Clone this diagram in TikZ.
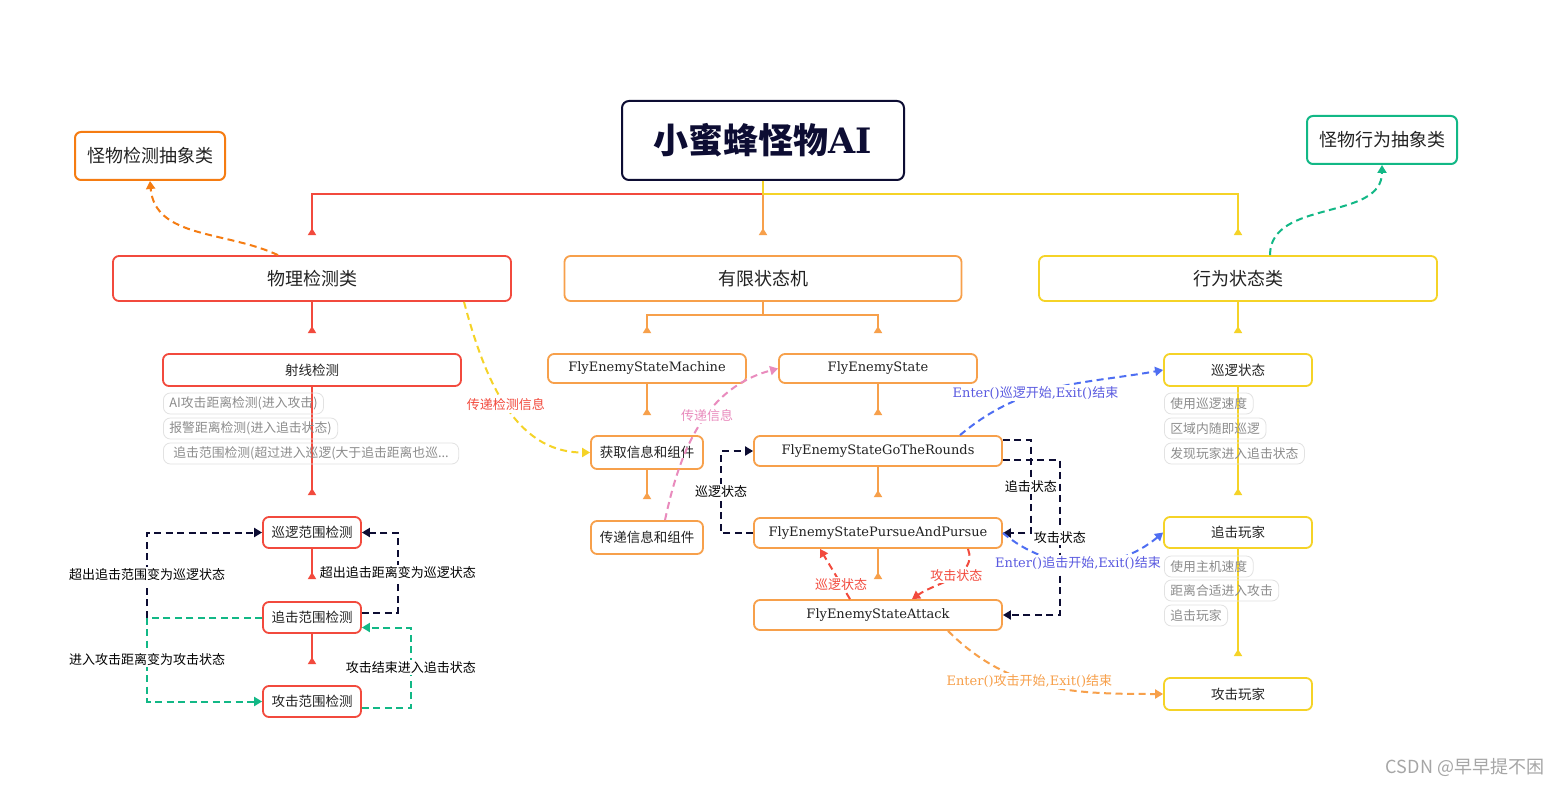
\documentclass[tikz,border=0pt]{standalone}
\usepackage{fontspec}
\setmainfont{Noto Sans CJK SC}
\newfontfamily\ser{DejaVu Serif}
\usetikzlibrary{arrows.meta}
\definecolor{cnavy}{HTML}{0D0D33}
\definecolor{cred}{HTML}{F24A3D}
\definecolor{corg}{HTML}{F7A04B}
\definecolor{corg2}{HTML}{F57C12}
\definecolor{cyel}{HTML}{F5D327}
\definecolor{cgreen}{HTML}{12B886}
\definecolor{cblue}{HTML}{4E6EF2}
\definecolor{cbluet}{HTML}{5A5AE0}
\definecolor{cpink}{HTML}{E98BBD}
\definecolor{ctag}{HTML}{E2E2E2}
\definecolor{ctagtext}{HTML}{8C8C8C}
\definecolor{ctext}{HTML}{222222}
\newcommand\myfs[1]{\fontsize{#1}{#1}\selectfont}
\begin{document}
\begin{tikzpicture}[x=1pt,y=-1pt,
  box/.style={draw, rounded corners=6pt, line width=1.8pt, fill=white, inner sep=0pt, text=ctext},
  big/.style={box, font=\myfs{18}},
  mid/.style={box, font=\myfs{13.5}},
  sbox/.style={box, font=\ser\myfs{13}},
  tag/.style={draw=ctag, rounded corners=7pt, line width=0.8pt, anchor=west, minimum height=21pt, inner xsep=6pt, inner ysep=0pt, text=ctagtext, font=\myfs{12.8}},
  lbl/.style={fill=white, inner sep=1.5pt, font=\myfs{13}, text=black},
  tr/.style={line width=2pt, -{Triangle[reversed,width=8pt,length=7pt]}},
  da/.style={line width=2pt, dash pattern=on 7pt off 4.5pt, -{Triangle[width=9pt,length=8pt]}}
]
\useasboundingbox (0,0) rectangle (1565,786);
\fill[white] (0,0) rectangle (1565,786);

% main nodes
\node[box, draw=cnavy, line width=2pt, rounded corners=7pt, minimum width=282pt, minimum height=79pt, text=cnavy] (root) at (763,140.5) {\myfs{35}\bfseries 小蜜蜂怪物{\ser\bfseries AI}};
\node[big, draw=corg2, line width=2pt, minimum width=150pt, minimum height=48pt] (absDet) at (150,156) {怪物检测抽象类};
\node[big, draw=cgreen, line width=2pt, minimum width=150pt, minimum height=48pt] (absBeh) at (1382,140) {怪物行为抽象类};
\node[big, draw=cred, minimum width=398pt, minimum height=45pt] (phys) at (312,278.5) {物理检测类};
\node[big, draw=corg, minimum width=397pt, minimum height=45pt] (fsm) at (763,278.5) {有限状态机};
\node[big, draw=cyel, minimum width=398pt, minimum height=45pt] (beh) at (1238,278.5) {行为状态类};

% left subtree
\node[mid, draw=cred, minimum width=298pt, minimum height=32pt] (ray) at (312,370) {射线检测};
\node[mid, draw=cred, minimum width=98pt, minimum height=31pt] (patrolR) at (312,532.5) {巡逻范围检测};
\node[mid, draw=cred, minimum width=98pt, minimum height=31pt] (chaseR) at (312,617.5) {追击范围检测};
\node[mid, draw=cred, minimum width=98pt, minimum height=31pt] (attackR) at (312,701.5) {攻击范围检测};

% middle subtree
\node[sbox, draw=corg, minimum width=198pt, minimum height=29pt] (machine) at (647,368.5) {FlyEnemyStateMachine};
\node[sbox, draw=corg, minimum width=198pt, minimum height=29pt] (state) at (878,368.5) {FlyEnemyState};
\node[mid, draw=corg, minimum width=112pt, minimum height=33pt] (get) at (647,452.5) {获取信息和组件};
\node[mid, draw=corg, minimum width=112pt, minimum height=33pt] (pass) at (647,537.5) {传递信息和组件};
\node[sbox, draw=corg, minimum width=248pt, minimum height=30pt] (rounds) at (878,451) {FlyEnemyStateGoTheRounds};
\node[sbox, draw=corg, minimum width=248pt, minimum height=30pt] (pursue) at (878,533) {FlyEnemyStatePursueAndPursue};
\node[sbox, draw=corg, minimum width=248pt, minimum height=30pt] (attack) at (878,615) {FlyEnemyStateAttack};

% right subtree
\node[mid, draw=cyel, minimum width=148pt, minimum height=32pt] (patrolS) at (1238,370) {巡逻状态};
\node[mid, draw=cyel, minimum width=148pt, minimum height=31pt] (chaseP) at (1238,532.5) {追击玩家};
\node[mid, draw=cyel, minimum width=148pt, minimum height=32pt] (attackP) at (1238,694) {攻击玩家};

% tree connectors
\draw[tr, cred] (root.south) -- ++(0,13) -| ([yshift=20pt]phys.north);
\draw[tr, corg] (root.south) -- ([yshift=20pt]fsm.north);
\draw[tr, cyel] (root.south) -- ++(0,13) -| ([yshift=20pt]beh.north);
\draw[tr, cred] (phys.south) -- ([yshift=20pt]ray.north);
\draw[tr, cred] (ray.south) -- ([yshift=21pt]patrolR.north);
\draw[tr, cred] (patrolR.south) -- ([yshift=22pt]chaseR.north);
\draw[tr, cred] (chaseR.south) -- ([yshift=21pt]attackR.north);
\draw[tr, corg] (fsm.south) -- ++(0,13) -| ([yshift=20pt]machine.north);
\draw[tr, corg] (fsm.south) -- ++(0,13) -| ([yshift=20pt]state.north);
\draw[tr, corg] (machine.south) -- ([yshift=20pt]get.north);
\draw[tr, corg] (get.south) -- ([yshift=21pt]pass.north);
\draw[tr, corg] (state.south) -- ([yshift=20pt]rounds.north);
\draw[tr, corg] (rounds.south) -- ([yshift=20pt]pursue.north);
\draw[tr, corg] (pursue.south) -- ([yshift=20pt]attack.north);
\draw[tr, cyel] (beh.south) -- ([yshift=20pt]patrolS.north);
\draw[tr, cyel] (patrolS.south) -- ([yshift=21pt]chaseP.north);
\draw[tr, cyel] (chaseP.south) -- ([yshift=21pt]attackP.north);

% tags
\node[tag] (t1) at (163,403.5) {AI攻击距离检测(进入攻击)};
\node[tag] (t2) at (163,428.5) {报警距离检测(进入追击状态)};
\node[tag, inner xsep=10pt] (t3) at (163,453.5) {追击范围检测(超过进入巡逻(大于追击距离也巡...};
\node[tag] (t4) at (1164,403.5) {使用巡逻速度};
\node[tag] (t5) at (1164,428.5) {区域内随即巡逻};
\node[tag] (t6) at (1164,453.5) {发现玩家进入追击状态};
\node[tag] (t7) at (1164,566.5) {使用主机速度};
\node[tag] (t8) at (1164,590.5) {距离合适进入攻击};
\node[tag] (t9) at (1164,615.5) {追击玩家};

% abstract class links
\draw[da, corg2] ([xshift=-34pt]phys.north) to[out=155, in=-85] (absDet.south);
\draw[da, cgreen] ([xshift=32pt]beh.north) to[out=90, in=-90] (absBeh.south);

% left dashed
\draw[da, cnavy] (chaseR.west) -- ++(-115,0) |- node[pos=0.25, lbl]{超出追击范围变为巡逻状态} (patrolR.west);
\draw[da, cgreen] (chaseR.west) -- ++(-115,0) |- node[pos=0.25, lbl]{进入攻击距离变为攻击状态} (attackR.west);
\draw[da, cnavy] ([yshift=5pt]chaseR.east) -- ++(36,0) |- node[pos=0.25, lbl]{超出追击距离变为巡逻状态} (patrolR.east);
\draw[da, cgreen] ([yshift=-6pt]attackR.east) -- ++(49,0) |- node[pos=0.25, lbl]{攻击结束进入追击状态} ([yshift=-10pt]chaseR.east);

% info links
\draw[da, cyel] ([xshift=152pt]phys.south) to[out=-75, in=180] node[pos=0.5, lbl, text=cred]{传递检测信息} (get.west);
\draw[da, cpink] ([xshift=18pt]pass.north) to[out=78, in=195] node[pos=0.56, lbl, text=cpink]{传递信息} (state.west);

% state transitions
\draw[da, cnavy] (pursue.west) -- ++(-32,0) |- node[pos=0.25, lbl]{巡逻状态} (rounds.west);
\draw[da, cnavy] ([yshift=11pt]rounds.east) -- ++(28,0) |- node[pos=0.25, lbl]{追击状态} (pursue.east);
\draw[da, cnavy] ([yshift=-9pt]rounds.east) -- ++(57,0) |- node[pos=0.25, lbl]{攻击状态} (attack.east);
\draw[da, cred] ([xshift=-28pt]attack.north) -- node[pos=0.3, lbl, text=cred]{巡逻状态} ([xshift=-58pt]pursue.south);
\draw[da, cred] ([xshift=90pt]pursue.south) to[out=-70, in=35] node[pos=0.45, lbl, text=cred]{攻击状态} ([xshift=34pt]attack.north);

% enter/exit links
\draw[da, cblue] ([xshift=82pt]rounds.north) to[out=40, in=190] node[pos=0.4, lbl, text=cbluet]{{\ser Enter()}巡逻开始{\ser ,Exit()}结束} (patrolS.west);
\draw[da, cblue] (pursue.east) to[out=-40, in=220] node[pos=0.47, lbl, text=cbluet]{{\ser Enter()}追击开始{\ser ,Exit()}结束} (chaseP.west);
\draw[da, corg] ([xshift=70pt]attack.south) to[out=-45, in=180] node[pos=0.42, lbl, text=corg]{{\ser Enter()}攻击开始{\ser ,Exit()}结束} (attackP.west);

% watermark
\node[text=gray!70, font=\myfs{18}] (wm) at (1465,767) {CSDN @早早提不困};
\end{tikzpicture}
\end{document}
